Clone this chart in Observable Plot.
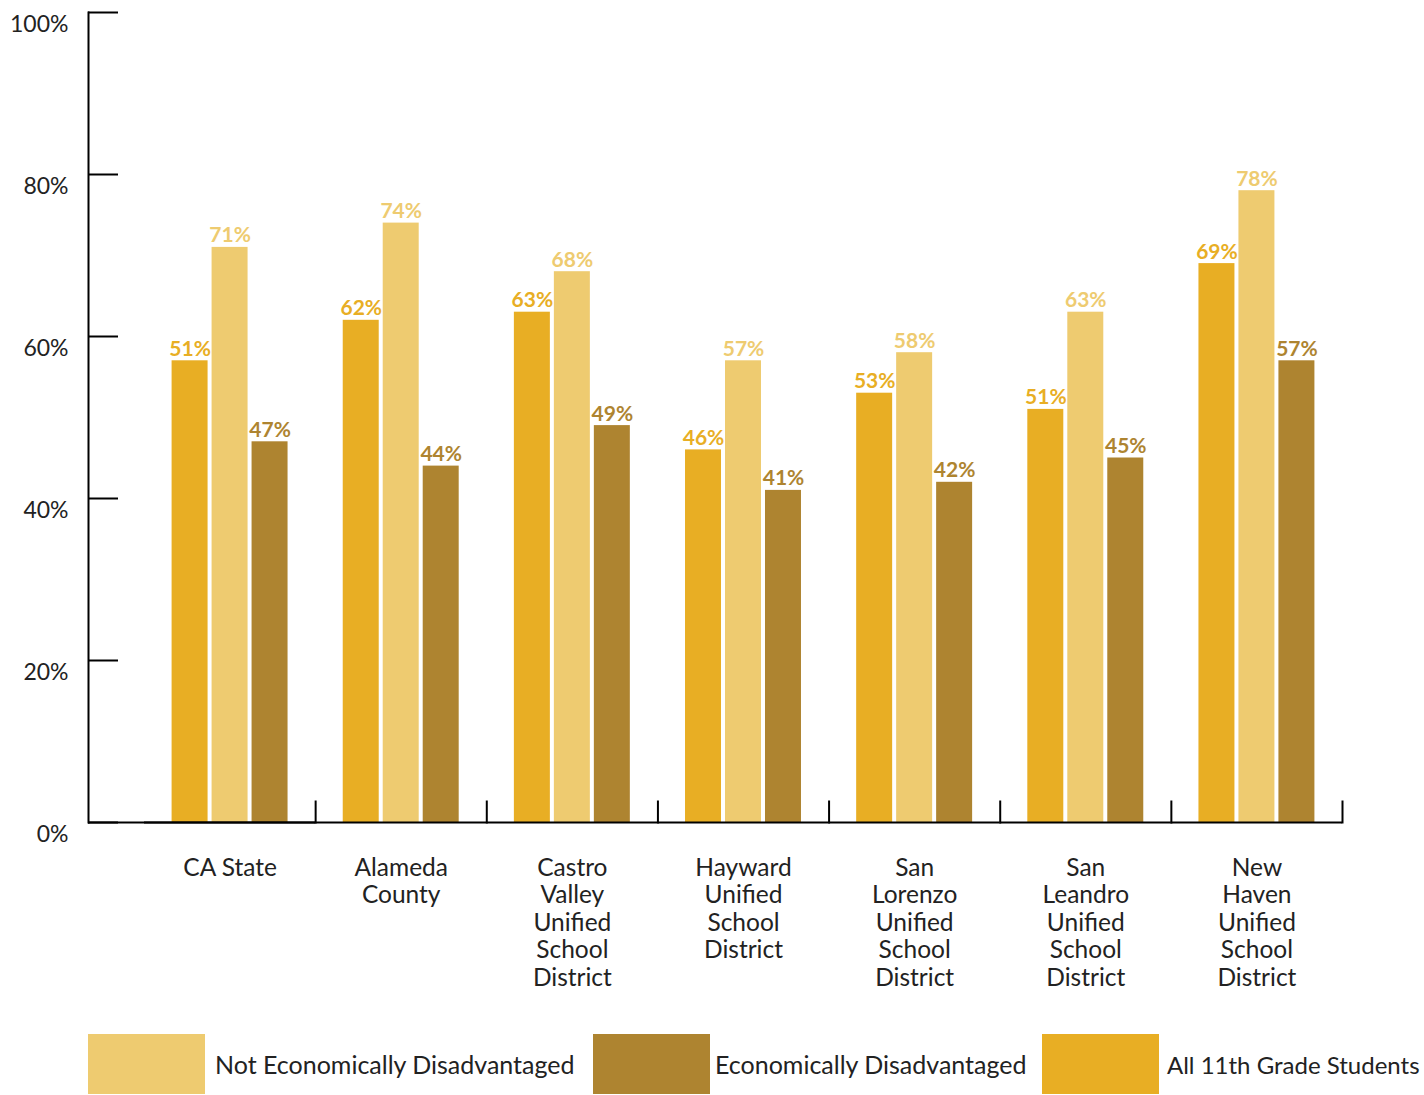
<!DOCTYPE html>
<html><head><meta charset="utf-8">
<script src="https://cdn.jsdelivr.net/npm/d3@7"></script>
<script src="https://cdn.jsdelivr.net/npm/@observablehq/plot@0.6"></script>
<style>
body{margin:0;background:#fff;font-family:Lato,"Noto Sans",sans-serif;}
#legend{display:flex;align-items:center;padding-left:88px;margin-top:14px;height:60px;}
.item{display:flex;align-items:center;height:60px;flex:none;}
.sw{width:117px;height:60px;flex:none;}
.lab{font-size:25px;color:#222;white-space:nowrap;}
</style></head><body><div id="chart"></div><div id="legend"></div>
<script>
const groups = ["CA State","Alameda County","Castro Valley Unified School District","Hayward Unified School District","San Lorenzo Unified School District","San Leandro Unified School District","New Haven Unified School District"];
const groupLabels = ["CA State","Alameda\nCounty","Castro\nValley\nUnified\nSchool\nDistrict","Hayward\nUnified\nSchool\nDistrict","San\nLorenzo\nUnified\nSchool\nDistrict","San\nLeandro\nUnified\nSchool\nDistrict","New\nHaven\nUnified\nSchool\nDistrict"];
const series = ["All 11th Grade Students","Not Economically Disadvantaged","Economically Disadvantaged"];
const seriesColors = ["#E8AE24","#EECB70","#AE8430"];
const allValues = [57,62,63,46,53,51,69];
const allLabels = ["51%","62%","63%","46%","53%","51%","69%"];
const notValues = [71,74,68,57,58,63,78];
const notLabels = ["71%","74%","68%","57%","58%","63%","78%"];
const econValues = [47,44,49,41,42,45,57];
const econLabels = ["47%","44%","49%","41%","42%","45%","57%"];
const yTicks = [0,20,40,60,80,100];
const legendOrder = ["Not Economically Disadvantaged","Economically Disadvantaged","All 11th Grade Students"];

const data = groups.flatMap((g,i)=>[
  {group:g, series:series[0], value:allValues[i], label:allLabels[i]},
  {group:g, series:series[1], value:notValues[i], label:notLabels[i]},
  {group:g, series:series[2], value:econValues[i], label:econLabels[i]}
]);

// gap (px) between the y axis line and the first group
const axisGap = 56;
const ink = "#000";

const plot = Plot.plot({
  width:1424, height:1020,
  marginLeft:88+axisGap, marginRight:82, marginTop:12, marginBottom:198,
  style:{fontFamily:"Lato, 'Noto Sans', sans-serif", background:"white", color:"#222"},
  fx:{domain:groups, padding:0, round:false, label:null},
  x:{domain:series, paddingInner:0.1, paddingOuter:0.69, round:false, axis:null},
  y:{domain:[0,100], label:null},
  color:{domain:series, range:seriesColors},
  marks:[
    Plot.barY(data,{fx:"group", x:"series", y:"value", fill:"series"}),
    Plot.text(data,{fx:"group", x:"series", y:"value", text:"label", fill:"series", lineAnchor:"bottom", dy:-5, fontWeight:"bold", fontSize:21}),
    Plot.frame({anchor:"right", insetTop:789, stroke:ink, strokeWidth:2}),
    Plot.ruleY([0],{stroke:ink, strokeWidth:2}),
    Plot.ruleY([0],{facetAnchor:"left", insetLeft:-axisGap, stroke:ink, strokeWidth:2}),
    Plot.frame({anchor:"left", facetAnchor:"left", dx:-axisGap, stroke:ink, strokeWidth:2}),
    Plot.axisY({ticks:yTicks, tickSize:-30, text:null, dx:-axisGap, stroke:ink, strokeWidth:2, label:null}),
    Plot.axisY({ticks:yTicks, tickSize:0, tickPadding:20, dx:-axisGap, dy:12, fontSize:23, fill:"#222", tickFormat:d=>d+"%", label:null}),
    Plot.axisFx({anchor:"bottom", tickSize:0, tickPadding:34, fontSize:24.5, lineHeight:1.12, fill:"#222", tickFormat:d=>groupLabels[groups.indexOf(d)], label:null})
  ]
});
document.getElementById("chart").appendChild(plot);

const leg = document.getElementById("legend");
const widths = [505,449,null];
const gaps = [10,5,8];
const sizes = [25,25,24];
legendOrder.forEach((s,i)=>{
  const it = document.createElement("div"); it.className="item";
  if (widths[i]) it.style.width = widths[i]+"px";
  const sw = document.createElement("div"); sw.className="sw"; sw.style.background = seriesColors[series.indexOf(s)];
  const lb = document.createElement("div"); lb.className="lab"; lb.textContent = s;
  lb.style.marginLeft = gaps[i]+"px"; lb.style.fontSize = sizes[i]+"px";
  it.appendChild(sw); it.appendChild(lb); leg.appendChild(it);
});
</script></body></html>
